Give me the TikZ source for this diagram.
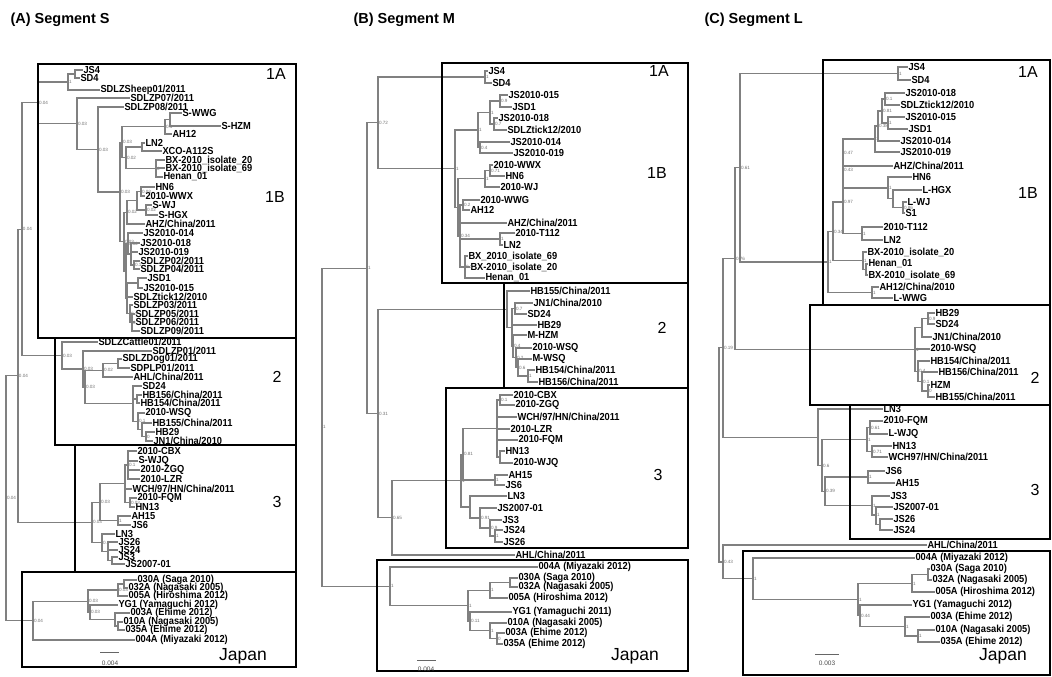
\documentclass[tikz,border=0pt]{standalone}
\usepackage{fontspec}
\setmainfont{Liberation Sans}
\newfontfamily\tipfont[FakeStretch=0.91]{Liberation Sans}
\begin{document}
\begin{tikzpicture}[x=1pt,y=-1pt,
  br/.style={draw=black!50,line width=1.05pt},
  tip/.style={anchor=west,inner sep=0.3pt,font=\tipfont\fontsize{10.2}{10.2}\selectfont\bfseries},
  bs/.style={inner sep=0.8pt,font=\fontsize{4.6}{4.6}\selectfont,text=black!55},
  bsl/.style={label={[bs]right:#1}},
  grp/.style={draw=black,line width=1.1pt},
  grplab/.style={font=\fontsize{16}{16}\selectfont},
  japlab/.style={font=\fontsize{17.5}{17.5}\selectfont},
  ttl/.style={anchor=west,font=\fontsize{14.5}{14.5}\selectfont\bfseries},
  scl/.style={font=\fontsize{6.5}{6.5}\selectfont,text=black!70}]
\fill[white] (0,0) rectangle (1052,677);
\useasboundingbox (0,0) rectangle (1052,677);

\node[ttl] (Attl) at (7,20) {(A) Segment S};
\node[ttl] (Bttl) at (350,20) {(B) Segment M};
\node[ttl] (Cttl) at (701,20) {(C) Segment L};

% (A) segment S
\node[tip] (A1) at (83,70) {JS4};
\node[tip] (A2) at (80,78) {SD4};
\node[tip] (A3) at (100,90) {SDLZSheep01/2011};
\node[tip] (A4) at (130,98) {SDLZP07/2011};
\node[tip] (A5) at (124,107) {SDLZP08/2011};
\node[tip] (A6) at (182,113) {S-WWG};
\node[tip] (A7) at (221,126) {S-HZM};
\node[tip] (A8) at (172,134) {AH12};
\node[tip] (A9) at (145,143) {LN2};
\node[tip] (A10) at (162,151) {XCO-A112S};
\node[tip] (A11) at (165,160) {BX-2010\_isolate\_20};
\node[tip] (A12) at (165,168) {BX-2010\_isolate\_69};
\node[tip] (A13) at (163,177) {Henan\_01};
\node[tip] (A14) at (155,187) {HN6};
\node[tip] (A15) at (145,196) {2010-WWX};
\node[tip] (A16) at (152,205) {S-WJ};
\node[tip] (A17) at (158,215) {S-HGX};
\node[tip] (A18) at (145,224) {AHZ/China/2011};
\node[tip] (A19) at (143,233) {JS2010-014};
\node[tip] (A20) at (140,243) {JS2010-018};
\node[tip] (A21) at (138,252) {JS2010-019};
\node[tip] (A22) at (140,261) {SDLZP02/2011};
\node[tip] (A23) at (140,269) {SDLZP04/2011};
\node[tip] (A24) at (147,278) {JSD1};
\node[tip] (A25) at (143,288) {JS2010-015};
\node[tip] (A26) at (133,297) {SDLZtick12/2010};
\node[tip] (A27) at (133,305) {SDLZP03/2011};
\node[tip] (A28) at (135,314) {SDLZP05/2011};
\node[tip] (A29) at (135,322) {SDLZP06/2011};
\node[tip] (A30) at (140,331) {SDLZP09/2011};
\node[tip] (A31) at (98,342) {SDLZCattle01/2011};
\node[tip] (A32) at (152,351) {SDLZP01/2011};
\node[tip] (A33) at (122,359) {SDLZDog01/2011};
\node[tip] (A34) at (130,368) {SDPLP01/2011};
\node[tip] (A35) at (133,377) {AHL/China/2011};
\node[tip] (A36) at (142,386) {SD24};
\node[tip] (A37) at (142,395) {HB156/China/2011};
\node[tip] (A38) at (140,403) {HB154/China/2011};
\node[tip] (A39) at (145,413) {2010-WSQ};
\node[tip] (A40) at (152,423) {HB155/China/2011};
\node[tip] (A41) at (155,432) {HB29};
\node[tip] (A42) at (153,441) {JN1/China/2010};
\node[tip] (A43) at (137,451) {2010-CBX};
\node[tip] (A44) at (138,461) {S-WJQ};
\node[tip] (A45) at (140,470) {2010-ZGQ};
\node[tip] (A46) at (140,479) {2010-LZR};
\node[tip] (A47) at (132,489) {WCH/97/HN/China/2011};
\node[tip] (A48) at (137,498) {2010-FQM};
\node[tip] (A49) at (135,507) {HN13};
\node[tip] (A50) at (131,516) {AH15};
\node[tip] (A51) at (131,525) {JS6};
\node[tip] (A52) at (115,534) {LN3};
\node[tip] (A53) at (118,542) {JS26};
\node[tip] (A54) at (118,550) {JS24};
\node[tip] (A55) at (118,557) {JS3};
\node[tip] (A56) at (125,564) {JS2007-01};
\node[tip] (A57) at (137,580) {030A (Saga 2010)};
\node[tip] (A58) at (128,588) {032A (Nagasaki 2005)};
\node[tip] (A59) at (128,596) {005A (Hiroshima 2012)};
\node[tip] (A60) at (118,605) {YG1 (Yamaguchi 2012)};
\node[tip] (A61) at (130,613) {003A (Ehime 2012)};
\node[tip] (A62) at (123,622) {010A (Nagasaki 2005)};
\node[tip] (A63) at (125,630) {035A (Ehime 2012)};
\node[tip] (A64) at (135,640) {004A (Miyazaki 2012)};

\coordinate[bsl=0.04] (Ar) at (6,498.2);
\coordinate[bsl=0.04] (AB) at (18,375.8);
\coordinate[bsl=0.04] (AC) at (22,229.2);
\coordinate[bsl=0.04] (A1n) at (38,102.9);
\coordinate[bsl=1] (A1a) at (68,82);
\coordinate (Aa1) at (75,74);
\coordinate[bsl=0.03] (A1b) at (77,123.75);
\coordinate[bsl=0.03] (Ab1) at (98,149.5);
\coordinate[bsl=0.03] (Ab2) at (120,192);
\coordinate[bsl=0.03] (Ab3) at (122,142.25);
\coordinate[bsl=0.1] (Ab4) at (165,126.75);
\coordinate (Ab4a) at (170,119.5);
\coordinate[bsl=0.02] (Ab3b) at (126,157.75);
\coordinate (Ab5) at (142,147);
\coordinate[bsl=0] (Ab6) at (156,168.5);
\coordinate[bsl=0.03] (Ab7) at (124,241.7);
\coordinate[bsl=0.02] (Ab8) at (127,212.4);
\coordinate (Ab8a) at (137,200.75);
\coordinate[bsl=0.03] (Ab8b) at (141,191.5);
\coordinate[bsl=0.02] (Ab8c) at (146,210);
\coordinate (Ab9) at (126,271);
\coordinate[bsl=0.02] (Ab9a) at (128,243.5);
\coordinate (Ab9b) at (131,254);
\coordinate[bsl=0.1] (Ab9c) at (134,265);
\coordinate (Ab9d) at (127,298.4);
\coordinate (Ab9e) at (138,283);
\coordinate[bsl=0.1] (Ab9f) at (130,313.75);
\coordinate[bsl=0] (Ab9g) at (132,322.5);
\coordinate[bsl=0.03] (A2n) at (62,355.5);
\coordinate[bsl=0.03] (A2a) at (83,369);
\coordinate[bsl=0.03] (A2c) at (85,387);
\coordinate[bsl=0.02] (A2d) at (103,370.25);
\coordinate (A2d1) at (118,363.5);
\coordinate (A2e) at (133,403.7);
\coordinate (A2f) at (137,399);
\coordinate[bsl=0.1] (A2g) at (138,421.4);
\coordinate (A2h) at (142,429.75);
\coordinate[bsl=0] (A2i) at (146,436.5);
\coordinate[bsl=0.03] (A3n) at (92,522.4);
\coordinate[bsl=0.03] (A3a) at (100,502.1);
\coordinate (A3b) at (125,483.75);
\coordinate[bsl=0.1] (A3b1) at (128,465);
\coordinate[bsl=0.03] (A3b2) at (130,502.5);
\coordinate[bsl=1] (A3c) at (118,520.5);
\coordinate[bsl=0.1] (A3d) at (102,542.6);
\coordinate (A3e) at (108,551.25);
\coordinate (A3f) at (112,560.5);
\coordinate[bsl=0.04] (AJ) at (33,620.6);
\coordinate[bsl=0.03] (AJa) at (88,601.1);
\coordinate[bsl=0.03] (AJb) at (118,590);
\coordinate (AJb1) at (124,584);
\coordinate[bsl=0.03] (AJc) at (90,612.25);
\coordinate (AJd) at (115,619.5);
\coordinate (AJe) at (118,626);

\draw[br] (Ar) |- (AB) (Ar) |- (AJ);
\draw[br] (AB) |- (AC) (AB) |- (A3n);
\draw[br] (AC) |- (A1n) (AC) |- (A2n);
\draw[br] (A1n) |- (A1a) (A1n) |- (A1b);
\draw[br] (A1a) |- (Aa1) (A1a) |- (A3);
\draw[br] (Aa1) |- (A1) (Aa1) |- (A2);
\draw[br] (A1b) |- (A4) (A1b) |- (Ab1);
\draw[br] (Ab1) |- (A5) (Ab1) |- (Ab2);
\draw[br] (Ab2) |- (Ab3) (Ab2) |- (Ab7);
\draw[br] (Ab3) |- (Ab4) (Ab3) |- (Ab3b);
\draw[br] (Ab4) |- (Ab4a) (Ab4) |- (A8);
\draw[br] (Ab4a) |- (A6) (Ab4a) |- (A7);
\draw[br] (Ab3b) |- (Ab5) (Ab3b) |- (Ab6);
\draw[br] (Ab5) |- (A9) (Ab5) |- (A10);
\draw[br] (Ab6) |- (A11) (Ab6) |- (A12) (Ab6) |- (A13);
\draw[br] (Ab7) |- (Ab8) (Ab7) |- (Ab9);
\draw[br] (Ab8) |- (Ab8a) (Ab8) |- (A18);
\draw[br] (Ab8a) |- (Ab8b) (Ab8a) |- (Ab8c);
\draw[br] (Ab8b) |- (A14) (Ab8b) |- (A15);
\draw[br] (Ab8c) |- (A16) (Ab8c) |- (A17);
\draw[br] (Ab9) |- (Ab9a) (Ab9) |- (Ab9d);
\draw[br] (Ab9a) |- (A19) (Ab9a) |- (Ab9b);
\draw[br] (Ab9b) |- (A20) (Ab9b) |- (A21) (Ab9b) |- (Ab9c);
\draw[br] (Ab9c) |- (A22) (Ab9c) |- (A23);
\draw[br] (Ab9d) |- (Ab9e) (Ab9d) |- (A26) (Ab9d) |- (Ab9f);
\draw[br] (Ab9e) |- (A24) (Ab9e) |- (A25);
\draw[br] (Ab9f) |- (A27) (Ab9f) |- (Ab9g);
\draw[br] (Ab9g) |- (A28) (Ab9g) |- (A29) (Ab9g) |- (A30);
\draw[br] (A2n) |- (A31) (A2n) |- (A2a);
\draw[br] (A2a) |- (A32) (A2a) |- (A2c);
\draw[br] (A2c) |- (A2d) (A2c) |- (A2e);
\draw[br] (A2d) |- (A2d1) (A2d) |- (A35);
\draw[br] (A2d1) |- (A33) (A2d1) |- (A34);
\draw[br] (A2e) |- (A36) (A2e) |- (A2f) (A2e) |- (A2g);
\draw[br] (A2f) |- (A37) (A2f) |- (A38);
\draw[br] (A2g) |- (A39) (A2g) |- (A2h);
\draw[br] (A2h) |- (A40) (A2h) |- (A2i);
\draw[br] (A2i) |- (A41) (A2i) |- (A42);
\draw[br] (A3n) |- (A3a) (A3n) |- (A3d);
\draw[br] (A3a) |- (A3b) (A3a) |- (A3c);
\draw[br] (A3b) |- (A3b1) (A3b) |- (A47) (A3b) |- (A3b2);
\draw[br] (A3b1) |- (A43) (A3b1) |- (A44) (A3b1) |- (A45) (A3b1) |- (A46);
\draw[br] (A3b2) |- (A48) (A3b2) |- (A49);
\draw[br] (A3c) |- (A50) (A3c) |- (A51);
\draw[br] (A3d) |- (A52) (A3d) |- (A3e);
\draw[br] (A3e) |- (A53) (A3e) |- (A54) (A3e) |- (A3f);
\draw[br] (A3f) |- (A55) (A3f) |- (A56);
\draw[br] (AJ) |- (AJa) (AJ) |- (A64);
\draw[br] (AJa) |- (AJb) (AJa) |- (AJc);
\draw[br] (AJb) |- (AJb1) (AJb) |- (A59);
\draw[br] (AJb1) |- (A57) (AJb1) |- (A58);
\draw[br] (AJc) |- (A60) (AJc) |- (AJd);
\draw[br] (AJd) |- (A61) (AJd) |- (AJe);
\draw[br] (AJe) |- (A62) (AJe) |- (A63);

\draw[grp] (38,64) rectangle (296,338);
\draw[grp] (55,338) rectangle (296,445);
\draw[grp] (75,445) rectangle (296,572);
\draw[grp] (22,572) rectangle (296,667);
\node[grplab] (A1A) at (276,74) {1A};
\node[grplab] (A1B) at (275,197) {1B};
\node[grplab] (A2l) at (277,377) {2};
\node[grplab] (A3l) at (277,502) {3};
\node[japlab] (AJl) at (243,656) {Japan};
\draw[black!60,line width=0.8pt] (100,652) -- (119,652);
\node[scl] (Ascl) at (110,663) {0.004};

% (B) segment M
\node[tip] (B1) at (488,71) {JS4};
\node[tip] (B2) at (492,83) {SD4};
\node[tip] (B3) at (508,95) {JS2010-015};
\node[tip] (B4) at (512,107) {JSD1};
\node[tip] (B5) at (498,118) {JS2010-018};
\node[tip] (B6) at (507,130) {SDLZtick12/2010};
\node[tip] (B7) at (510,142) {JS2010-014};
\node[tip] (B8) at (513,153) {JS2010-019};
\node[tip] (B9) at (493,165) {2010-WWX};
\node[tip] (B10) at (505,176) {HN6};
\node[tip] (B11) at (500,187) {2010-WJ};
\node[tip] (B12) at (480,200) {2010-WWG};
\node[tip] (B13) at (470,210) {AH12};
\node[tip] (B14) at (507,223) {AHZ/China/2011};
\node[tip] (B15) at (515,233) {2010-T112};
\node[tip] (B16) at (503,245) {LN2};
\node[tip] (B17) at (468,256) {BX\_2010\_isolate\_69};
\node[tip] (B18) at (470,267) {BX-2010\_isolate\_20};
\node[tip] (B19) at (485,278) {Henan\_01};
\node[tip] (B20) at (530,291) {HB155/China/2011};
\node[tip] (B21) at (533,303) {JN1/China/2010};
\node[tip] (B22) at (527,314) {SD24};
\node[tip] (B23) at (537,325) {HB29};
\node[tip] (B24) at (527,335) {M-HZM};
\node[tip] (B25) at (532,348) {2010-WSQ};
\node[tip] (B26) at (532,359) {M-WSQ};
\node[tip] (B27) at (535,370) {HB154/China/2011};
\node[tip] (B28) at (538,382) {HB156/China/2011};
\node[tip] (B29) at (513,395) {2010-CBX};
\node[tip] (B30) at (515,405) {2010-ZGQ};
\node[tip] (B31) at (517,417) {WCH/97/HN/China/2011};
\node[tip] (B32) at (510,429) {2010-LZR};
\node[tip] (B33) at (518,440) {2010-FQM};
\node[tip] (B34) at (505,451) {HN13};
\node[tip] (B35) at (513,463) {2010-WJQ};
\node[tip] (B36) at (508,475) {AH15};
\node[tip] (B37) at (505,485) {JS6};
\node[tip] (B38) at (507,496) {LN3};
\node[tip] (B39) at (497,508) {JS2007-01};
\node[tip] (B40) at (502,520) {JS3};
\node[tip] (B41) at (503,530) {JS24};
\node[tip] (B42) at (503,542) {JS26};
\node[tip] (B43) at (515,555) {AHL/China/2011};
\node[tip] (B44) at (538,567) {004A (Miyazaki 2012)};
\node[tip] (B45) at (518,578) {030A (Saga 2010)};
\node[tip] (B46) at (518,587) {032A (Nagasaki 2005)};
\node[tip] (B47) at (508,598) {005A (Hiroshima 2012)};
\node[tip] (B48) at (512,612) {YG1 (Yamaguchi 2011)};
\node[tip] (B49) at (507,623) {010A (Nagasaki 2005)};
\node[tip] (B50) at (505,633) {003A (Ehime 2012)};
\node[tip] (B51) at (503,644) {035A (Ehime 2012)};

\coordinate[bsl=1] (Br) at (322,427.3);
\coordinate[bsl=1] (Bt) at (367,268.2);
\coordinate[bsl=0.72] (B072) at (378,122.9);
\coordinate[bsl=1] (Ba) at (485,77);
\coordinate[bsl=1] (B1B) at (455,168.7);
\coordinate[bsl=1] (Bb) at (478,130);
\coordinate[bsl=1] (Bc) at (490,112.5);
\coordinate[bsl=0.9] (Bd) at (500,101);
\coordinate[bsl=0.7] (Be) at (494,124);
\coordinate[bsl=0.4] (Bf) at (480,147.5);
\coordinate (Bg) at (458,207.4);
\coordinate[bsl=1] (Bh) at (485,178.75);
\coordinate[bsl=0.71] (Bh1) at (490,170.5);
\coordinate[bsl=0.34] (Bk) at (460,236);
\coordinate[bsl=0.2] (Bl) at (463,205);
\coordinate[bsl=1] (Bm) at (500,239);
\coordinate[bsl=0.1] (Bn) at (465,267);
\coordinate[bsl=0.31] (B031) at (378,413.5);
\coordinate (B2n) at (507,309.2);
\coordinate (B2a) at (512,327.45);
\coordinate[bsl=0.7] (B2b) at (515,308.5);
\coordinate[bsl=0.4] (B2d) at (513,346.4);
\coordinate[bsl=0.2] (B2e) at (516,357.75);
\coordinate[bsl=0.6] (B2f) at (518,367.5);
\coordinate[bsl=1] (B2g) at (528,376);
\coordinate[bsl=0.65] (B065) at (392,517.8);
\coordinate[bsl=1] (B3n) at (461,480.6);
\coordinate[bsl=0.81] (B3a) at (463,454.25);
\coordinate (B3b) at (497,428.5);
\coordinate[bsl=0.1] (B3c) at (500,400);
\coordinate (B3d) at (500,457);
\coordinate[bsl=1] (B3e) at (495,480);
\coordinate (B3f) at (470,507);
\coordinate[bsl=0.91] (B3g) at (480,518);
\coordinate[bsl=0.9] (B3h) at (490,528);
\coordinate[bsl=1] (B3i) at (495,536);
\coordinate[bsl=1] (BJ) at (390,586.4);
\coordinate[bsl=1] (BJa) at (468,605.8);
\coordinate[bsl=1] (BJb) at (490,590.25);
\coordinate (BJb1) at (510,582.5);
\coordinate[bsl=0.11] (BJc) at (470,621.4);
\coordinate[bsl=1] (BJd) at (490,630.75);
\coordinate[bsl=0] (BJe) at (497,638.5);

\draw[br] (Br) |- (Bt) (Br) |- (BJ);
\draw[br] (Bt) |- (B072) (Bt) |- (B031);
\draw[br] (B072) |- (Ba) (B072) |- (B1B);
\draw[br] (Ba) |- (B1) (Ba) |- (B2);
\draw[br] (B1B) |- (Bb) (B1B) |- (Bg);
\draw[br] (Bb) |- (Bc) (Bb) |- (Bf);
\draw[br] (Bc) |- (Bd) (Bc) |- (Be);
\draw[br] (Bd) |- (B3) (Bd) |- (B4);
\draw[br] (Be) |- (B5) (Be) |- (B6);
\draw[br] (Bf) |- (B7) (Bf) |- (B8);
\draw[br] (Bg) |- (Bh) (Bg) |- (Bk);
\draw[br] (Bh) |- (Bh1) (Bh) |- (B11);
\draw[br] (Bh1) |- (B9) (Bh1) |- (B10);
\draw[br] (Bk) |- (Bl) (Bk) |- (B14) (Bk) |- (Bm) (Bk) |- (Bn);
\draw[br] (Bl) |- (B12) (Bl) |- (B13);
\draw[br] (Bm) |- (B15) (Bm) |- (B16);
\draw[br] (Bn) |- (B17) (Bn) |- (B18) (Bn) |- (B19);
\draw[br] (B031) |- (B2n) (B031) |- (B065);
\draw[br] (B2n) |- (B20) (B2n) |- (B2a);
\draw[br] (B2a) |- (B2b) (B2a) |- (B23) (B2a) |- (B2d);
\draw[br] (B2b) |- (B21) (B2b) |- (B22);
\draw[br] (B2d) |- (B24) (B2d) |- (B2e);
\draw[br] (B2e) |- (B25) (B2e) |- (B2f);
\draw[br] (B2f) |- (B26) (B2f) |- (B2g);
\draw[br] (B2g) |- (B27) (B2g) |- (B28);
\draw[br] (B065) |- (B3n) (B065) |- (B43);
\draw[br] (B3n) |- (B3a) (B3n) |- (B3f);
\draw[br] (B3a) |- (B3b) (B3a) |- (B3e);
\draw[br] (B3b) |- (B3c) (B3b) |- (B31) (B3b) |- (B32) (B3b) |- (B33) (B3b) |- (B3d);
\draw[br] (B3c) |- (B29) (B3c) |- (B30);
\draw[br] (B3d) |- (B34) (B3d) |- (B35);
\draw[br] (B3e) |- (B36) (B3e) |- (B37);
\draw[br] (B3f) |- (B38) (B3f) |- (B3g);
\draw[br] (B3g) |- (B39) (B3g) |- (B3h);
\draw[br] (B3h) |- (B40) (B3h) |- (B3i);
\draw[br] (B3i) |- (B41) (B3i) |- (B42);
\draw[br] (BJ) |- (B44) (BJ) |- (BJa);
\draw[br] (BJa) |- (BJb) (BJa) |- (BJc);
\draw[br] (BJb) |- (BJb1) (BJb) |- (B47);
\draw[br] (BJb1) |- (B45) (BJb1) |- (B46);
\draw[br] (BJc) |- (B48) (BJc) |- (BJd);
\draw[br] (BJd) |- (B49) (BJd) |- (BJe);
\draw[br] (BJe) |- (B50) (BJe) |- (B51);

\draw[grp] (442,63) rectangle (688,283);
\draw[grp] (504,283) rectangle (688,388);
\draw[grp] (446,388) rectangle (688,548);
\draw[grp] (377,560) rectangle (688,671);
\node[grplab] (B1A) at (659,71) {1A};
\node[grplab] (B1B) at (657,173) {1B};
\node[grplab] (B2l) at (662,328) {2};
\node[grplab] (B3l) at (658,475) {3};
\node[japlab] (BJl) at (635,656) {Japan};
\draw[black!60,line width=0.8pt] (417,660) -- (436,660);
\node[scl] (Bscl) at (426,669) {0.004};

% (C) segment L
\node[tip] (C1) at (908,67) {JS4};
\node[tip] (C2) at (911,80) {SD4};
\node[tip] (C3) at (905,93) {JS2010-018};
\node[tip] (C4) at (900,105) {SDLZtick12/2010};
\node[tip] (C5) at (905,117) {JS2010-015};
\node[tip] (C6) at (908,129) {JSD1};
\node[tip] (C7) at (900,141) {JS2010-014};
\node[tip] (C8) at (900,152) {JS2010-019};
\node[tip] (C9) at (893,166) {AHZ/China/2011};
\node[tip] (C10) at (912,177) {HN6};
\node[tip] (C11) at (922,190) {L-HGX};
\node[tip] (C12) at (907,202) {L-WJ};
\node[tip] (C13) at (905,213) {S1};
\node[tip] (C14) at (883,227) {2010-T112};
\node[tip] (C15) at (883,240) {LN2};
\node[tip] (C16) at (867,252) {BX-2010\_isolate\_20};
\node[tip] (C17) at (868,264) {Henan\_01};
\node[tip] (C18) at (868,275) {BX-2010\_isolate\_69};
\node[tip] (C19) at (879,287) {AH12/China/2010};
\node[tip] (C20) at (893,298) {L-WWG};
\node[tip] (C21) at (935,313) {HB29};
\node[tip] (C22) at (935,324) {SD24};
\node[tip] (C23) at (932,337) {JN1/China/2010};
\node[tip] (C24) at (930,349) {2010-WSQ};
\node[tip] (C25) at (930,361) {HB154/China/2011};
\node[tip] (C26) at (938,372) {HB156/China/2011};
\node[tip] (C27) at (930,385) {HZM};
\node[tip] (C28) at (935,397) {HB155/China/2011};
\node[tip] (C29) at (883,409) {LN3};
\node[tip] (C30) at (883,421) {2010-FQM};
\node[tip] (C31) at (888,434) {L-WJQ};
\node[tip] (C32) at (892,446) {HN13};
\node[tip] (C33) at (888,457) {WCH97/HN/China/2011};
\node[tip] (C34) at (885,471) {JS6};
\node[tip] (C35) at (895,483) {AH15};
\node[tip] (C36) at (890,496) {JS3};
\node[tip] (C37) at (893,507) {JS2007-01};
\node[tip] (C38) at (893,519) {JS26};
\node[tip] (C39) at (893,530) {JS24};
\node[tip] (C40) at (927,545) {AHL/China/2011};
\node[tip] (C41) at (915,558) {004A (Miyazaki 2012)};
\node[tip] (C42) at (930,569) {030A (Saga 2010)};
\node[tip] (C43) at (932,580) {032A (Nagasaki 2005)};
\node[tip] (C44) at (935,592) {005A (Hiroshima 2012)};
\node[tip] (C45) at (912,605) {YG1 (Yamaguchi 2012)};
\node[tip] (C46) at (930,617) {003A (Ehime 2012)};
\node[tip] (C47) at (935,630) {010A (Nagasaki 2005)};
\node[tip] (C48) at (940,642) {035A (Ehime 2012)};

\coordinate (Cr) at (719,455);
\coordinate[bsl=0.19] (C019) at (723,347.9);
\coordinate[bsl=0.76] (C076) at (735,258.6);
\coordinate[bsl=0.61] (C061) at (740,167.75);
\coordinate[bsl=1] (Ca) at (898,73.5);
\coordinate[bsl=1] (C1B) at (828,262);
\coordinate[bsl=0.34] (Cb34) at (833,231.5);
\coordinate[bsl=0.97] (Cb97) at (843,202);
\coordinate[bsl=0.43] (Cb43) at (843,170.3);
\coordinate[bsl=0.47] (Cb47) at (843,152.5);
\coordinate[bsl=1] (Cj) at (875,139);
\coordinate[bsl=0.38] (Cj1) at (878,126);
\coordinate[bsl=0.81] (Cj2) at (882,111);
\coordinate[bsl=0.1] (Cj3) at (885,99);
\coordinate[bsl=1] (Cj4) at (888,123);
\coordinate[bsl=1] (Ch) at (888,188);
\coordinate (Ch1) at (893,198.75);
\coordinate[bsl=0.86] (Ch2) at (903,207.5);
\coordinate[bsl=1] (Cm) at (862,233.5);
\coordinate[bsl=1] (Cq) at (863,260.75);
\coordinate (Cq1) at (866,269.5);
\coordinate[bsl=1] (Cw) at (872,292.5);
\coordinate[bsl=1] (C2n) at (915,349.5);
\coordinate (C2a) at (922,327.75);
\coordinate[bsl=0.9] (C2b) at (928,318.5);
\coordinate[bsl=0.4] (C2c) at (918,371.25);
\coordinate[bsl=0.1] (C2d) at (922,381.5);
\coordinate[bsl=0] (C2e) at (928,391);
\coordinate (C3n) at (818,437.25);
\coordinate[bsl=0.6] (C06) at (822,465.5);
\coordinate[bsl=1] (C3a) at (867,439.5);
\coordinate[bsl=0.61] (C3b) at (870,427.5);
\coordinate[bsl=0.71] (C3c) at (872,451.5);
\coordinate[bsl=0.39] (C039) at (825,491.25);
\coordinate[bsl=1] (C3d) at (868,477);
\coordinate[bsl=1] (C3e) at (872,505.5);
\coordinate[bsl=1] (C3f) at (876,515);
\coordinate (C3g) at (880,524.5);
\coordinate[bsl=0.43] (C043) at (723,562);
\coordinate[bsl=1] (CJ) at (753,578.9);
\coordinate[bsl=1] (CJa) at (858,599.7);
\coordinate[bsl=1] (CJb) at (912,583.75);
\coordinate (CJc) at (928,574.5);
\coordinate[bsl=0.44] (CJd) at (860,615.75);
\coordinate[bsl=1] (CJe) at (905,626.5);
\coordinate[bsl=1] (CJf) at (918,636);

\draw[br] (Cr) |- (C019) (Cr) |- (C043);
\draw[br] (C019) |- (C076) (C019) |- (C3n);
\draw[br] (C076) |- (C061) (C076) |- (C2n);
\draw[br] (C061) |- (Ca) (C061) |- (C1B);
\draw[br] (Ca) |- (C1) (Ca) |- (C2);
\draw[br] (C1B) |- (Cb34) (C1B) |- (Cw);
\draw[br] (Cb34) |- (Cb97) (Cb34) |- (Cq);
\draw[br] (Cb97) |- (Cb43) (Cb97) |- (Cm);
\draw[br] (Cb43) |- (Cb47) (Cb43) |- (Ch);
\draw[br] (Cb47) |- (Cj) (Cb47) |- (C9);
\draw[br] (Cj) |- (Cj1) (Cj) |- (C8);
\draw[br] (Cj1) |- (Cj2) (Cj1) |- (C7);
\draw[br] (Cj2) |- (Cj3) (Cj2) |- (Cj4);
\draw[br] (Cj3) |- (C3) (Cj3) |- (C4);
\draw[br] (Cj4) |- (C5) (Cj4) |- (C6);
\draw[br] (Ch) |- (C10) (Ch) |- (Ch1);
\draw[br] (Ch1) |- (C11) (Ch1) |- (Ch2);
\draw[br] (Ch2) |- (C12) (Ch2) |- (C13);
\draw[br] (Cm) |- (C14) (Cm) |- (C15);
\draw[br] (Cq) |- (C16) (Cq) |- (Cq1);
\draw[br] (Cq1) |- (C17) (Cq1) |- (C18);
\draw[br] (Cw) |- (C19) (Cw) |- (C20);
\draw[br] (C2n) |- (C2a) (C2n) |- (C24) (C2n) |- (C2c);
\draw[br] (C2a) |- (C2b) (C2a) |- (C23);
\draw[br] (C2b) |- (C21) (C2b) |- (C22);
\draw[br] (C2c) |- (C25) (C2c) |- (C2d);
\draw[br] (C2d) |- (C26) (C2d) |- (C2e);
\draw[br] (C2e) |- (C27) (C2e) |- (C28);
\draw[br] (C3n) |- (C29) (C3n) |- (C06);
\draw[br] (C06) |- (C3a) (C06) |- (C039);
\draw[br] (C3a) |- (C3b) (C3a) |- (C3c);
\draw[br] (C3b) |- (C30) (C3b) |- (C31);
\draw[br] (C3c) |- (C32) (C3c) |- (C33);
\draw[br] (C039) |- (C3d) (C039) |- (C3e);
\draw[br] (C3d) |- (C34) (C3d) |- (C35);
\draw[br] (C3e) |- (C36) (C3e) |- (C3f);
\draw[br] (C3f) |- (C37) (C3f) |- (C3g);
\draw[br] (C3g) |- (C38) (C3g) |- (C39);
\draw[br] (C043) |- (C40) (C043) |- (CJ);
\draw[br] (CJ) |- (C41) (CJ) |- (CJa);
\draw[br] (CJa) |- (CJb) (CJa) |- (CJd);
\draw[br] (CJb) |- (CJc) (CJb) |- (C44);
\draw[br] (CJc) |- (C42) (CJc) |- (C43);
\draw[br] (CJd) |- (C45) (CJd) |- (CJe);
\draw[br] (CJe) |- (C46) (CJe) |- (CJf);
\draw[br] (CJf) |- (C47) (CJf) |- (C48);

\draw[grp] (823,60) rectangle (1050,305);
\draw[grp] (810,305) rectangle (1050,405);
\draw[grp] (850,405) rectangle (1050,539);
\draw[grp] (743,551) rectangle (1050,675);
\node[grplab] (C1A) at (1028,72) {1A};
\node[grplab] (C1Bl) at (1028,193) {1B};
\node[grplab] (C2l) at (1035,378) {2};
\node[grplab] (C3l) at (1035,490) {3};
\node[japlab] (CJl) at (1003,656) {Japan};
\draw[black!60,line width=0.8pt] (815,654) -- (839,654);
\node[scl] (Cscl) at (827,663) {0.003};
\end{tikzpicture}
\end{document}
